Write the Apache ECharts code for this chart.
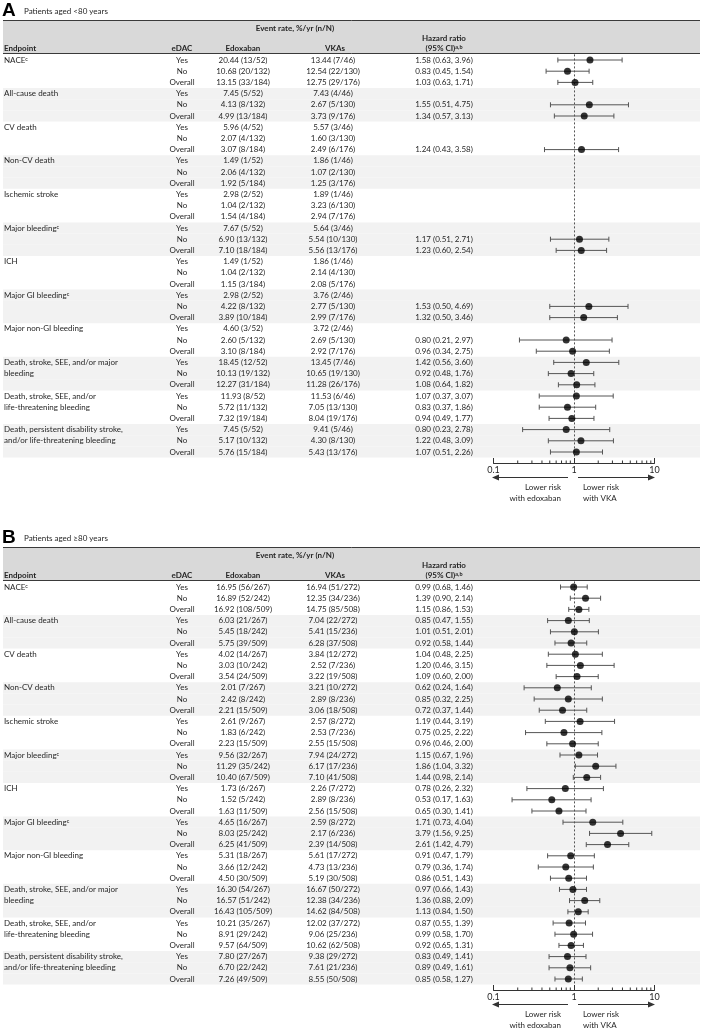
<!DOCTYPE html>
<html><head><meta charset="utf-8">
<script src="https://cdn.jsdelivr.net/npm/echarts@6/dist/echarts.min.js"></script>
<style>html,body{margin:0;padding:0;background:#fff}#c{width:705px;height:1030px}</style>
</head><body><div id="c"></div>
<script>
// ---------------- DATA ----------------
const endpointLines = [
  ['NACE{sup|c}'], ['All-cause death'], ['CV death'], ['Non-CV death'], ['Ischemic stroke'],
  ['Major bleeding{sup|c}'], ['ICH'], ['Major GI bleeding{sup|c}'], ['Major non-GI bleeding'],
  ['Death, stroke, SEE, and/or major', 'bleeding'],
  ['Death, stroke, SEE, and/or', 'life-threatening bleeding'],
  ['Death, persistent disability stroke,', 'and/or life-threatening bleeding']
];
const edacLevels = ['Yes', 'No', 'Overall'];

const edoxA = ['20.44 (13/52)','10.68 (20/132)','13.15 (33/184)','7.45 (5/52)','4.13 (8/132)','4.99 (13/184)','5.96 (4/52)','2.07 (4/132)','3.07 (8/184)','1.49 (1/52)','2.06 (4/132)','1.92 (5/184)','2.98 (2/52)','1.04 (2/132)','1.54 (4/184)','7.67 (5/52)','6.90 (13/132)','7.10 (18/184)','1.49 (1/52)','1.04 (2/132)','1.15 (3/184)','2.98 (2/52)','4.22 (8/132)','3.89 (10/184)','4.60 (3/52)','2.60 (5/132)','3.10 (8/184)','18.45 (12/52)','10.13 (19/132)','12.27 (31/184)','11.93 (8/52)','5.72 (11/132)','7.32 (19/184)','7.45 (5/52)','5.17 (10/132)','5.76 (15/184)'];
const vkaA = ['13.44 (7/46)','12.54 (22/130)','12.75 (29/176)','7.43 (4/46)','2.67 (5/130)','3.73 (9/176)','5.57 (3/46)','1.60 (3/130)','2.49 (6/176)','1.86 (1/46)','1.07 (2/130)','1.25 (3/176)','1.89 (1/46)','3.23 (6/130)','2.94 (7/176)','5.64 (3/46)','5.54 (10/130)','5.56 (13/176)','1.86 (1/46)','2.14 (4/130)','2.08 (5/176)','3.76 (2/46)','2.77 (5/130)','2.99 (7/176)','3.72 (2/46)','2.69 (5/130)','2.92 (7/176)','13.45 (7/46)','10.65 (19/130)','11.28 (26/176)','11.53 (6/46)','7.05 (13/130)','8.04 (19/176)','9.41 (5/46)','4.30 (8/130)','5.43 (13/176)'];
const hrA = [1.58,0.83,1.03, null,1.55,1.34, null,null,1.24, null,null,null, null,null,null, null,1.17,1.23, null,null,null, null,1.53,1.32, null,0.80,0.96, 1.42,0.92,1.08, 1.07,0.83,0.94, 0.80,1.22,1.07];
const loA = [0.63,0.45,0.63, null,0.51,0.57, null,null,0.43, null,null,null, null,null,null, null,0.51,0.60, null,null,null, null,0.50,0.50, null,0.21,0.34, 0.56,0.48,0.64, 0.37,0.37,0.49, 0.23,0.48,0.51];
const hiA = [3.96,1.54,1.71, null,4.75,3.13, null,null,3.58, null,null,null, null,null,null, null,2.71,2.54, null,null,null, null,4.69,3.46, null,2.97,2.75, 3.60,1.76,1.82, 3.07,1.86,1.77, 2.78,3.09,2.26];

const edoxB = ['16.95 (56/267)','16.89 (52/242)','16.92 (108/509)','6.03 (21/267)','5.45 (18/242)','5.75 (39/509)','4.02 (14/267)','3.03 (10/242)','3.54 (24/509)','2.01 (7/267)','2.42 (8/242)','2.21 (15/509)','2.61 (9/267)','1.83 (6/242)','2.23 (15/509)','9.56 (32/267)','11.29 (35/242)','10.40 (67/509)','1.73 (6/267)','1.52 (5/242)','1.63 (11/509)','4.65 (16/267)','8.03 (25/242)','6.25 (41/509)','5.31 (18/267)','3.66 (12/242)','4.50 (30/509)','16.30 (54/267)','16.57 (51/242)','16.43 (105/509)','10.21 (35/267)','8.91 (29/242)','9.57 (64/509)','7.80 (27/267)','6.70 (22/242)','7.26 (49/509)'];
const vkaB = ['16.94 (51/272)','12.35 (34/236)','14.75 (85/508)','7.04 (22/272)','5.41 (15/236)','6.28 (37/508)','3.84 (12/272)','2.52 (7/236)','3.22 (19/508)','3.21 (10/272)','2.89 (8/236)','3.06 (18/508)','2.57 (8/272)','2.53 (7/236)','2.55 (15/508)','7.94 (24/272)','6.17 (17/236)','7.10 (41/508)','2.26 (7/272)','2.89 (8/236)','2.56 (15/508)','2.59 (8/272)','2.17 (6/236)','2.39 (14/508)','5.61 (17/272)','4.73 (13/236)','5.19 (30/508)','16.67 (50/272)','12.38 (34/236)','14.62 (84/508)','12.02 (37/272)','9.06 (25/236)','10.62 (62/508)','9.38 (29/272)','7.61 (21/236)','8.55 (50/508)'];
const hrB = [0.99,1.39,1.15, 0.85,1.01,0.92, 1.04,1.20,1.09, 0.62,0.85,0.72, 1.19,0.75,0.96, 1.15,1.86,1.44, 0.78,0.53,0.65, 1.71,3.79,2.61, 0.91,0.79,0.86, 0.97,1.36,1.13, 0.87,0.99,0.92, 0.83,0.89,0.85];
const loB = [0.68,0.90,0.86, 0.47,0.51,0.58, 0.48,0.46,0.60, 0.24,0.32,0.37, 0.44,0.25,0.46, 0.67,1.04,0.98, 0.26,0.17,0.30, 0.73,1.56,1.42, 0.47,0.36,0.51, 0.66,0.88,0.84, 0.55,0.58,0.65, 0.49,0.49,0.58];
const hiB = [1.46,2.14,1.53, 1.55,2.01,1.44, 2.25,3.15,2.00, 1.64,2.25,1.44, 3.19,2.22,2.00, 1.96,3.32,2.14, 2.32,1.63,1.41, 4.04,9.25,4.79, 1.79,1.74,1.43, 1.43,2.09,1.50, 1.39,1.70,1.31, 1.41,1.61,1.27];

const axisTickLabels = [0.1, 1, 10];
const minorTickValues = [0.2,0.3,0.4,0.5,0.6,0.7,0.8,0.9,2,3,4,5,6,7,8,9];

// ---------------- LAYOUT / STYLE ----------------
const ROWS = 36, ROW_H = 11.2;
const TXT = '#262626';
const FONT = 'Lato, "Open Sans", sans-serif';
const FS = 8;
const CI_COLOR = '#555';
const HR_X = 444;
const rowIds = Array.from({length: ROWS}, (_, i) => String(i));
const endpointRowLabels = [];
endpointLines.forEach(l => endpointRowLabels.push(l[0], l[1] || '', ''));
const edacRowLabels = [];
endpointLines.forEach(() => edacRowLabels.push(...edacLevels));
const bandFlags = rowIds.map((_, i) => (Math.floor(i / 3) % 2 === 1 ? 1 : '-'));
const SUP = { fontSize: 5.5, verticalAlign: 'top', lineHeight: 6, fontFamily: FONT, color: TXT };

const grid = [], xAxis = [], yAxis = [], series = [], graphic = [];

function G(left, top, width, height) {
  return { left, top, width, height, containLabel: false, outerBoundsMode: 'none' };
}
function hrText(hr, lo, hi) {
  return hr.map((v, i) => v == null ? '' : v.toFixed(2) + ' (' + lo[i].toFixed(2) + ', ' + hi[i].toFixed(2) + ')');
}
function textCol(top, h, x, labels, align) {
  const gi = grid.length;
  grid.push(G(x, top, 1, h));
  xAxis.push({ type: 'value', gridIndex: gi, show: false });
  yAxis.push({
    type: 'category', gridIndex: gi, inverse: true, data: rowIds, position: 'left',
    axisLine: { show: false }, axisTick: { show: false }, splitLine: { show: false },
    axisLabel: {
      show: true, interval: 0, margin: 0, align: align, hideOverlap: false,
      color: TXT, fontFamily: FONT, fontSize: FS,
      formatter: (v, i) => labels[i], rich: { sup: SUP }
    }
  });
}
function txt(x, y, text, align, bold, size) {
  graphic.push({
    type: 'text', z: 100, silent: true,
    style: {
      text, x, y, align: align, verticalAlign: 'middle', textAlign: align, textVerticalAlign: 'middle',
      fill: TXT, font: (bold ? 'bold ' : '') + (size || FS) + 'px ' + FONT,
      rich: { sup: Object.assign({}, SUP, { fontWeight: bold ? 'bold' : 'normal' }) }
    }
  });
}

function addPanel(T, letter, subtitle, edox, vka, hr, lo, hi) {
  const top = T + 54.4, h = ROWS * ROW_H;
  // title
  graphic.push({ type: 'text', z: 100, silent: true, style: { text: letter, x: 2, y: T + 11, verticalAlign: 'middle', textVerticalAlign: 'middle', fill: '#000', font: 'bold 19px "Liberation Sans", Arial, sans-serif' } });
  txt(24, T + 11, subtitle, 'left', false, 8);
  // header
  graphic.push({ type: 'rect', z: -5, silent: true, shape: { x: 3, y: T + 20, width: 697, height: 33.5 }, style: { fill: '#d9d9d9' } });
  graphic.push({ type: 'line', z: 50, silent: true, shape: { x1: 3, y1: T + 20.5, x2: 700, y2: T + 20.5 }, style: { stroke: '#3a3a3a', lineWidth: 1 } });
  graphic.push({ type: 'line', z: 50, silent: true, shape: { x1: 3, y1: T + 53.5, x2: 700, y2: T + 53.5 }, style: { stroke: '#3a3a3a', lineWidth: 1 } });
  txt(295, T + 28, 'Event rate, %/yr (n/N)', 'center', true);
  txt(HR_X, T + 38, 'Hazard ratio', 'center', true);
  txt(HR_X, T + 48, '(95% CI){sup|a,b}', 'center', true);
  txt(4, T + 48, 'Endpoint', 'left', true);
  txt(182, T + 48, 'eDAC', 'center', true);
  txt(243, T + 48, 'Edoxaban', 'center', true);
  txt(335, T + 48, 'VKAs', 'center', true);

  // background bands
  let gi = grid.length;
  grid.push(G(3, top, 697, h));
  xAxis.push({ type: 'value', gridIndex: gi, min: 0, max: 1, show: false });
  yAxis.push({ type: 'category', gridIndex: gi, inverse: true, data: rowIds, show: false });
  series.push({ type: 'bar', xAxisIndex: gi, yAxisIndex: gi, data: bandFlags, barWidth: '100%', barCategoryGap: '0%', itemStyle: { color: '#f2f2f2' }, silent: true, z: -10 });

  // text columns
  textCol(top, h, 4, endpointRowLabels, 'left');
  textCol(top, h, 182, edacRowLabels, 'center');
  textCol(top, h, 243, edox, 'center');
  textCol(top, h, 333, vka, 'center');
  textCol(top, h, HR_X, hrText(hr, lo, hi), 'center');

  // forest plot
  gi = grid.length;
  grid.push(G(493.5, top, 161, h));
  xAxis.push({
    type: 'log', logBase: 10, gridIndex: gi, min: 0.1, max: 10, splitNumber: 2, position: 'bottom', offset: 5.4,
    axisLine: { show: true, onZero: false, lineStyle: { color: '#333', width: 1 } },
    axisTick: { show: true, inside: true, length: 5, lineStyle: { color: '#333' } },
    axisLabel: { show: true, margin: 3, fontSize: 9, color: TXT, fontFamily: FONT, formatter: v => (axisTickLabels.indexOf(+v) >= 0 ? String(+v) : '') },
    splitLine: { show: false }, minorTick: { show: false }
  });
  yAxis.push({ type: 'category', gridIndex: gi, inverse: true, data: rowIds, show: false });

  series.push({
    type: 'custom', xAxisIndex: gi, yAxisIndex: gi, clip: false, silent: true, z: 3,
    data: minorTickValues.map(v => [v, 0]), encode: { x: 0, y: 1 },
    renderItem(params, api) {
      const p = api.coord([api.value(0), 0]);
      const cs = params.coordSys;
      const yb = Math.round(cs.y + cs.height + 5.4) + 0.5;
      return { type: 'line', shape: { x1: p[0], y1: yb, x2: p[0], y2: yb - 3 }, style: { stroke: '#333', lineWidth: 1 } };
    }
  });

  const ci = [], pts = [];
  hr.forEach((v, i) => { if (v != null) { ci.push([lo[i], hi[i], i]); pts.push([v, i]); } });
  series.push({
    type: 'custom', xAxisIndex: gi, yAxisIndex: gi, clip: false, silent: true, z: 4,
    data: ci, encode: { x: [0, 1], y: 2 },
    renderItem(params, api) {
      const r = api.value(2);
      const a = api.coord([api.value(0), r]), b = api.coord([api.value(1), r]);
      const st = { stroke: CI_COLOR, lineWidth: 1 };
      return { type: 'group', children: [
        { type: 'line', shape: { x1: a[0], y1: a[1], x2: b[0], y2: b[1] }, style: st },
        { type: 'line', shape: { x1: a[0], y1: a[1] - 2.5, x2: a[0], y2: a[1] + 2.5 }, style: st },
        { type: 'line', shape: { x1: b[0], y1: b[1] - 2.5, x2: b[0], y2: b[1] + 2.5 }, style: st }
      ] };
    }
  });
  series.push({
    type: 'scatter', xAxisIndex: gi, yAxisIndex: gi, data: pts, symbol: 'circle', symbolSize: 7,
    itemStyle: { color: '#000' }, z: 5, silent: true,
    markLine: { silent: true, symbol: 'none', label: { show: false }, lineStyle: { type: [2, 2], color: '#555', width: 1 }, data: [{ xAxis: 1 }] }
  });

  // arrows & direction labels
  const ay = T + 477.5;
  graphic.push({ type: 'line', silent: true, shape: { x1: 568, y1: ay, x2: 497, y2: ay }, style: { stroke: '#333', lineWidth: 1 } });
  graphic.push({ type: 'polygon', silent: true, shape: { points: [[492, ay], [499, ay - 3], [499, ay + 3]] }, style: { fill: '#333' } });
  graphic.push({ type: 'line', silent: true, shape: { x1: 578, y1: ay, x2: 650, y2: ay }, style: { stroke: '#333', lineWidth: 1 } });
  graphic.push({ type: 'polygon', silent: true, shape: { points: [[655, ay], [648, ay - 3], [648, ay + 3]] }, style: { fill: '#333' } });
  txt(561, T + 487, 'Lower risk', 'right', false);
  txt(561, T + 498, 'with edoxaban', 'right', false);
  txt(583, T + 487, 'Lower risk', 'left', false);
  txt(583, T + 498, 'with VKA', 'left', false);
}

addPanel(0, 'A', 'Patients aged <80 years', edoxA, vkaA, hrA, loA, hiA);
addPanel(527, 'B', 'Patients aged \u226580 years', edoxB, vkaB, hrB, loB, hiB);

const chart = echarts.init(document.getElementById('c'), null, { renderer: 'canvas' });
chart.setOption({ animation: false, backgroundColor: '#fff', grid, xAxis, yAxis, series, graphic });
</script>
</body></html>
